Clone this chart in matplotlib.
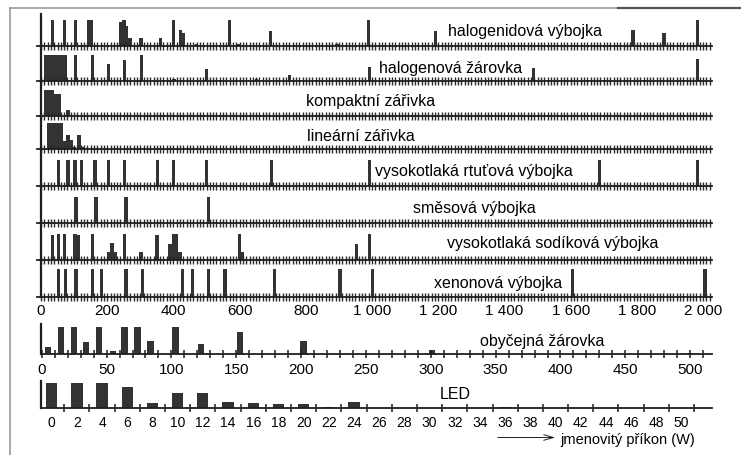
import numpy as np
import matplotlib.pyplot as plt
from matplotlib.lines import Line2D

plt.rcParams['font.family'] = ['Liberation Sans', 'DejaVu Sans']

# --- data (power in W, relative height of the bar) ---
halogenid_w = [35, 70, 105, 125, 143, 153, 241, 251, 259, 269, 302, 362, 400, 422, 430, 470,
               569, 598, 693, 894, 990, 1192, 1788, 1882, 1983]
halogenid_h = [100, 100, 100, 4, 100, 100, 91, 100, 75, 29, 29, 29, 100, 61, 49, 5,
               100, 5, 58, 5, 100, 58, 61, 49, 100]

halogen_w = [15, 25, 35, 45, 55, 65, 75, 105, 155, 203, 252, 304, 402, 500, 652, 750, 992, 1487, 1983]
halogen_h = [100, 100, 100, 100, 100, 100, 100, 100, 100, 64, 78, 100, 4, 45, 4, 23, 51, 49, 83]

kompakt_w = [15, 25, 35, 45, 55, 82]
kompakt_h = [100, 100, 100, 81, 81, 20]

linear_w = [22, 32, 42, 52, 62, 72, 82, 92, 102, 115, 125]
linear_h = [100, 100, 100, 100, 100, 27, 51, 33, 5, 51, 4]

rtut_w = [52, 82, 103, 123, 163, 203, 252, 352, 400, 500, 697, 992, 1487, 1687, 1983]
rtut_h = [100, 100, 100, 100, 100, 100, 100, 100, 100, 100, 100, 100, 4, 100, 100]

smes_w = [106, 166, 257, 505]
smes_h = [100, 100, 100, 100]

sodik_w = [35, 52, 72, 103, 113, 155, 203, 214, 224, 252, 302, 350, 390, 400, 410, 420,
           599, 609, 952, 992, 1487]
sodik_h = [94, 100, 100, 100, 94, 100, 29, 64, 29, 100, 29, 94, 62, 100, 100, 29,
           100, 29, 62, 100, 4]

xenon_w = [52, 75, 106, 155, 183, 257, 307, 428, 457, 505, 556, 705, 903, 1002, 1606, 2006]
xenon_h = [105] * 16

obyc_w = [5, 15, 25, 34, 44, 55, 64, 74, 84, 103, 123, 153, 202, 301, 500]
obyc_h = [27, 100, 100, 43, 100, 10, 100, 100, 49, 100, 38, 82, 49, 15, 5]

led_w = [0, 2, 4, 6, 8, 10, 12, 14, 16, 18, 20, 22, 24, 36]
led_h = [100, 100, 100, 84, 20, 61, 61, 27, 21, 16, 16, 5, 25, 6]

row_names = ['halogenidová výbojka', 'halogenová žárovka', 'kompaktní zářivka', 'lineární zářivka',
             'vysokotlaká rtuťová výbojka', 'směsová výbojka', 'vysokotlaká sodíková výbojka',
             'xenonová výbojka']
row_data = [(halogenid_w, halogenid_h), (halogen_w, halogen_h), (kompakt_w, kompakt_h),
            (linear_w, linear_h), (rtut_w, rtut_h), (smes_w, smes_h), (sodik_w, sodik_h),
            (xenon_w, xenon_h)]

# --- layout in pixels ---
W, H = 741, 456
baselines = [46.7, 81.5, 116.5, 149.5, 187, 224.2, 260.7, 297.7]
tops = [15] + baselines[:-1]
label_pos = [(525, 31.7), (451, 68), (371, 101.7), (361, 136.7),
             (474, 171.7), (474, 208.3), (553, 243.3), (498, 283.3)]

bar_c = '#333333'
ax_c = '#1e1e1e'

fig = plt.figure(figsize=(W / 100, H / 100), dpi=100)


def box(x0, x1, yb, yt):
    return [x0 / W, 1 - yb / H, (x1 - x0) / W, (yb - yt) / H]


def style(ax):
    ax.set_facecolor('none')
    for s in ['top', 'right']:
        ax.spines[s].set_visible(False)
    ax.spines['left'].set_linewidth(1.6)
    ax.spines['bottom'].set_linewidth(1.3)
    ax.spines['left'].set_color(ax_c)
    ax.spines['bottom'].set_color(ax_c)
    ax.set_yticks([])


ticks = np.arange(0, 2021, 10)
for i, ((ws, hs), name) in enumerate(zip(row_data, row_names)):
    yb, yt = baselines[i], tops[i]
    ax = fig.add_axes(box(36.7, 711.7, yb, yt))
    ax.bar(ws, hs, width=10, color=bar_c, linewidth=0)
    ax.set_xlim(-13, 2026)
    ax.set_ylim(0, 100 * (yb - yt) / 26)
    style(ax)
    ax.spines['left'].set_position(('data', 0))
    ax.set_xticks(ticks)
    if i == len(row_data) - 1:
        ax.set_xticklabels([f'{t:,}'.replace(',', ' ') if t % 200 == 0 else '' for t in ticks])
    else:
        ax.set_xticklabels([])
    ax.tick_params(axis='x', direction='inout', length=6, width=1.0, color='#2a2a2a',
                   pad=1.5, labelsize=11)
    fig.text(label_pos[i][0] / W, 1 - label_pos[i][1] / H, name,
             ha='center', va='center', fontsize=11.5)

# obyčejná žárovka
ax = fig.add_axes(box(40.7, 711.7, 355, 325))
ax.bar(obyc_w, obyc_h, width=5, color=bar_c, linewidth=0)
ax.set_xlim(-0.8, 516.6)
ax.set_ylim(0, 110)
style(ax)
ax.set_xticks(np.arange(0, 501, 50))
ax.set_xticks(np.arange(0, 511, 10), minor=True)
ax.tick_params(axis='x', which='both', direction='inout', length=5.5, width=1.1, color=ax_c,
               pad=3, labelsize=11)
fig.text(542 / W, 1 - 341.7 / H, 'obyčejná žárovka', ha='center', va='center', fontsize=11.5)

# LED
ax = fig.add_axes(box(40.7, 711.7, 409.3, 381.7))
ax.bar(led_w, led_h, width=0.9, color=bar_c, linewidth=0)
ax.set_xlim(-0.87, 52.4)
ax.set_ylim(0, 110.4)
style(ax)
ax.set_xticks(np.arange(0, 51, 2))
ax.set_xticks(np.arange(1, 52, 2), minor=True)
ax.tick_params(axis='x', which='major', length=0, pad=4.5, labelsize=10)
ax.tick_params(axis='x', which='minor', direction='inout', length=5.5, width=1.1, color=ax_c)
fig.text(455 / W, 1 - 395 / H, 'LED', ha='center', va='center', fontsize=11.5)

# axis caption with arrow
ax.annotate('', xy=(558 / W, 1 - 438.5 / H), xytext=(495 / W, 1 - 438.5 / H),
            xycoords='figure fraction', textcoords='figure fraction',
            arrowprops=dict(arrowstyle='->, head_length=0.7, head_width=0.2', lw=0.7, color=ax_c))
fig.text(560 / W, 1 - 440 / H, 'jmenovitý příkon (W)', ha='left', va='center', fontsize=10.5)

# frame around the picture
fig.add_artist(Line2D([9.5 / W, 9.5 / W], [0, 1 - 8.5 / H], transform=fig.transFigure,
                      color='#9a9a9a', lw=1.2))
fig.add_artist(Line2D([9.5 / W, 618 / W], [1 - 8.5 / H, 1 - 8.5 / H], transform=fig.transFigure,
                      color='#9a9a9a', lw=1.2))
fig.add_artist(Line2D([618 / W, 1], [1 - 8.5 / H, 1 - 8.5 / H], transform=fig.transFigure,
                      color='#555555', lw=1.6))

fig.savefig('out.png', dpi=100)
